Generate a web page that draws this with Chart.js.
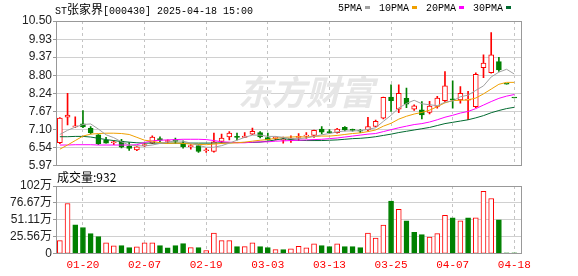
<!DOCTYPE html>
<html>
<head>
<meta charset="utf-8">
<script src="https://cdn.jsdelivr.net/npm/chart.js@4.4.1/dist/chart.umd.min.js"></script>
<style>
  html, body { margin: 0; padding: 0; background: #fff; }
  #wrap { position: relative; width: 578px; height: 276px; overflow: hidden; }
  #kline { position: absolute; left: 0; top: 0; }
  #vol { position: absolute; left: 0; top: 172px; }
  .txt { position: absolute; font: 10px "Liberation Mono", monospace; color: #000; white-space: nowrap; line-height: 12px; }
  .cjk { font-family: "Noto Sans CJK SC", sans-serif; font-size: 12px; }
  .box { display: inline-block; width: 5px; height: 3px; margin: 0 9px 2px 3px; vertical-align: middle; }
</style>
</head>
<body>
<div id="wrap">
  <canvas id="kline" width="578" height="174"></canvas>
  <canvas id="vol" width="578" height="109"></canvas>
  <div class="txt" style="left:55px;top:3px">ST<span class="cjk">张家界</span>[000430] 2025-04-18 15:00</div>
  <div class="txt" id="legend" style="left:338px;top:3px"></div>
  <div class="txt" style="left:57px;top:171px"><span class="cjk">成交量</span><span class="cjk">:932</span></div>
</div>
<script>
// trading days shown on the chart
const dates = ['01-15','01-16','01-17','01-20','01-21','01-22','01-23','01-24','01-27','02-05',
  '02-06','02-07','02-10','02-11','02-12','02-13','02-14','02-17','02-18','02-19',
  '02-20','02-21','02-24','02-25','02-26','02-27','02-28','03-03','03-04','03-05',
  '03-06','03-07','03-10','03-11','03-12','03-13','03-14','03-17','03-18','03-19',
  '03-20','03-21','03-24','03-25','03-26','03-27','03-28','03-31','04-01','04-02',
  '04-03','04-07','04-08','04-09','04-10','04-11','04-14','04-15','04-17','04-18'];
const dateTicks = ['01-20','02-07','02-19','03-03','03-13','03-25','04-07','04-18'];

const open  = [6.69,7.49,7.19,7.28,7.14,6.94,6.77,6.69,6.74,6.59, 6.47,6.60,6.68,6.82,6.73,6.79,6.68,6.57,6.60,6.44,
               6.42,6.73,6.87,6.88,6.86,6.96,7.01,6.85,6.83,6.77, 6.80,6.86,6.90,6.92,7.12,7.04,7.01,7.17,7.09,7.06,
               7.09,7.20,7.46,8.12,7.74,8.08,7.74,7.72,7.64,7.83, 8.01,8.04,8.03,8.02,7.82,9.04,8.88,9.23,8.52,8.09];
const high  = [7.48,8.24,7.50,7.70,7.20,6.95,6.86,6.75,6.80,6.70, 6.57,6.66,6.91,6.88,6.78,6.84,6.75,6.63,6.63,6.52,
               6.99,6.96,7.04,6.99,7.01,7.15,7.04,6.99,6.88,6.87, 6.91,6.98,7.01,7.09,7.20,7.10,7.14,7.20,7.12,7.10,
               7.49,7.40,8.12,8.50,8.50,8.40,7.88,7.98,7.99,8.14, 8.92,8.63,8.45,8.30,8.88,9.44,10.14,9.36,8.52,8.09];
const low   = [6.66,7.25,7.16,7.16,6.97,6.63,6.68,6.63,6.53,6.45, 6.44,6.57,6.66,6.72,6.68,6.68,6.52,6.49,6.39,6.39,
               6.40,6.68,6.78,6.78,6.85,6.94,6.84,6.77,6.78,6.68, 6.70,6.76,6.83,6.86,6.97,6.98,6.99,7.06,7.05,7.01,
               7.06,7.19,7.44,7.67,7.63,7.79,7.70,7.44,7.59,7.77, 7.96,7.77,7.93,7.41,7.79,8.73,8.87,8.92,8.52,8.09];
const close = [7.46,7.56,7.20,7.19,7.01,6.66,6.68,6.70,6.55,6.51, 6.56,6.63,6.87,6.77,6.74,6.73,6.57,6.58,6.42,6.45,
               6.72,6.84,6.99,6.86,6.90,7.05,6.87,6.78,6.84,6.78, 6.81,6.87,6.91,7.08,7.02,7.01,7.12,7.09,7.08,7.05,
               7.20,7.36,8.11,8.01,8.24,7.90,7.85,7.56,7.84,8.09, 8.47,8.03,8.24,8.06,8.83,9.18,9.44,8.97,8.52,8.09];

const ma5  = [6.95,7.08,7.18,7.26,7.28,7.12,6.94,6.85,6.72,6.62, 6.60,6.59,6.62,6.67,6.71,6.75,6.74,6.68,6.61,6.55,
              6.55,6.60,6.68,6.77,6.86,6.93,6.93,6.89,6.89,6.86, 6.82,6.82,6.84,6.89,6.94,6.98,7.03,7.06,7.06,7.07,
              7.11,7.16,7.36,7.55,7.78,7.92,8.02,7.91,7.88,7.85, 7.96,8.00,8.13,8.18,8.33,8.47,8.75,8.90,8.99,8.84];
const ma10 = [6.49,6.62,6.76,6.90,6.96,6.98,6.99,6.99,6.98,6.95, 6.86,6.77,6.74,6.69,6.67,6.68,6.67,6.65,6.64,6.63,
              6.65,6.67,6.68,6.69,6.71,6.74,6.77,6.79,6.83,6.86, 6.87,6.88,6.87,6.89,6.90,6.90,6.92,6.95,6.98,7.00,
              7.04,7.09,7.21,7.30,7.43,7.52,7.59,7.64,7.71,7.82, 7.94,8.01,8.02,8.03,8.09,8.22,8.37,8.52,8.58,8.58];
const ma20 = [6.62,6.62,6.63,6.63,6.63,6.62,6.62,6.62,6.62,6.62, 6.63,6.70,6.75,6.77,6.78,6.79,6.80,6.80,6.80,6.79,
              6.76,6.72,6.71,6.69,6.69,6.71,6.72,6.72,6.74,6.75, 6.76,6.77,6.78,6.79,6.80,6.82,6.84,6.87,6.90,6.93,
              6.96,6.98,7.04,7.10,7.16,7.21,7.26,7.29,7.34,7.41, 7.49,7.55,7.62,7.67,7.76,7.87,7.98,8.08,8.15,8.20];
const ma30 = [6.88,6.88,6.89,6.89,6.87,6.83,6.79,6.76,6.73,6.71, 6.69,6.68,6.68,6.68,6.68,6.68,6.68,6.68,6.68,6.68,
              6.68,6.69,6.69,6.70,6.70,6.70,6.71,6.74,6.78,6.82, 6.79,6.77,6.76,6.76,6.76,6.77,6.78,6.80,6.82,6.83,
              6.85,6.88,6.92,6.96,7.01,7.05,7.09,7.13,7.17,7.23, 7.29,7.33,7.37,7.41,7.47,7.54,7.63,7.70,7.76,7.80];

// volume in 万手
const volume = [19.8,75.9,43.7,39.7,30.3,25.8,16.4,11.9,12.4,9.4, 10.4,16.4,16.4,12.4,8.9,12.4,15.4,9.4,9.4,5.0,
                31.3,19.8,19.8,10.9,10.9,16.4,10.9,9.4,6.4,6.4, 7.4,11.4,8.9,14.9,12.4,10.9,14.9,10.9,10.9,9.4,
                31.3,23.8,43.2,79.4,67.0,49.6,32.3,28.8,25.3,30.3, 58.0,54.1,49.6,54.1,54.1,94.3,83.4,51.1,0.3,0.0932];

const priceTicks = [5.97, 6.54, 7.10, 7.67, 8.24, 8.80, 9.37, 9.93, 10.50];
const volTicks = [0, 25.56, 51.11, 76.67, 102.22];
const volTickLabels = ['0', '25.56万', '51.11万', '76.67万', '102万'];

const maNames = ['5PMA', '10PMA', '20PMA', '30PMA'];
const maColors = ['#a0a0a0', '#f0a000', '#ff00ff', '#006a30'];

const RED = '#ff0000', GREEN = '#008000';

// candle colour: by open/close, flat candles by previous close
const up = close.map((c, i) => c > open[i] || (c === open[i] && (i === 0 || c >= close[i - 1])));
const volUp = close.map((c, i) => i === 0 ? up[0] : c >= close[i - 1]);
const candleColor = up.map(u => u ? RED : GREEN);
const tickIdx = dateTicks.map(d => dates.indexOf(d));

// legend
document.getElementById('legend').innerHTML = maNames.map((n, i) =>
  n + '<span class="box" style="background:' + maColors[i] + '"></span>').join('');

Chart.defaults.font.family = '"Liberation Sans", "Noto Sans CJK SC", sans-serif';
Chart.defaults.font.size = 12;
Chart.defaults.color = '#222';

// watermark + grey frame round the plot area
const frame = {
  id: 'frame',
  beforeDatasetsDraw(chart, args, opts) {
    if (!opts.watermark) return;
    const ctx = chart.ctx;
    ctx.save();
    ctx.fillStyle = '#e6e6e6';
    ctx.font = 'bold italic 34px "Noto Sans CJK SC"';
    ctx.fillText('东方财富', 238, 105);
    ctx.restore();
  },
  afterDraw(chart) {
    const a = chart.chartArea, ctx = chart.ctx;
    const l = Math.round(a.left) + 0.5, t = Math.round(a.top) + 0.5;
    const r = Math.round(a.right) - 0.5, b = Math.round(a.bottom) - 0.5;
    ctx.save();
    ctx.strokeStyle = '#999';
    ctx.lineWidth = 1;
    ctx.strokeRect(l, t, r - l, b - t);
    ctx.restore();
  }
};

function xAxis(showLabels) {
  return {
    type: 'linear',
    min: -0.5,
    max: dates.length,
    offset: false,
    bounds: 'data',
    afterBuildTicks: s => { s.ticks = tickIdx.map(v => ({ value: v })); },
    grid: { color: '#c4c4c4', drawTicks: false, offset: false },
    border: { display: false, dash: [3, 3] },
    ticks: {
      display: showLabels,
      autoSkip: false,
      maxRotation: 0,
      padding: 5,
      color: RED,
      font: { family: '"Liberation Mono", monospace', size: 11 },
      callback: v => dates[v]
    }
  };
}

function yAxis(lo, hi, values, labels) {
  return {
    min: lo,
    max: hi,
    afterBuildTicks: s => { s.ticks = values.map(v => ({ value: v })); },
    afterFit: s => { s.width = 56; },
    grid: { color: '#d0d0d0', tickLength: 3, tickColor: '#999' },
    border: { display: false },
    ticks: { padding: 1, autoSkip: false, callback: (v, i) => labels[i] }
  };
}

const idx = dates.map((d, i) => i);

new Chart(document.getElementById('kline'), {
  type: 'bar',
  data: {
    datasets: [
      ...maNames.map((n, k) => ({
        type: 'line',
        label: n,
        data: idx.map(i => ({ x: i, y: [ma5, ma10, ma20, ma30][k][i] })),
        borderColor: maColors[k],
        borderWidth: 1,
        pointRadius: 0,
        order: 0
      })),
      {
        label: 'body',
        data: idx.map(i => ({ x: i, y: [open[i], close[i]] })),
        backgroundColor: up.map(u => u ? '#ffffff' : GREEN),
        borderColor: candleColor,
        borderWidth: 1,
        borderSkipped: false,
        barThickness: 5,
        minBarLength: 1,
        grouped: false,
        order: 1
      },
      {
        label: 'wick',
        data: idx.map(i => ({ x: i, y: [low[i], high[i]] })),
        backgroundColor: candleColor,
        barThickness: 1,
        grouped: false,
        order: 2
      }
    ]
  },
  options: {
    responsive: false,
    animation: false,
    devicePixelRatio: 1,
    layout: { padding: { top: 21, right: 56, bottom: 0, left: 0 } },
    plugins: { legend: { display: false }, tooltip: { enabled: false }, frame: { watermark: true } },
    scales: {
      x: xAxis(false),
      y: yAxis(5.97, 10.50, priceTicks, priceTicks.map(v => v.toFixed(2)))
    }
  },
  plugins: [frame]
});

new Chart(document.getElementById('vol'), {
  type: 'bar',
  data: {
    datasets: [{
      label: '成交量',
      data: idx.map(i => ({ x: i, y: volume[i] })),
      backgroundColor: volUp.map(u => u ? '#ffffff' : GREEN),
      borderColor: volUp.map(u => u ? RED : GREEN),
      borderWidth: 1,
      borderSkipped: false,
      barThickness: 5,
      minBarLength: 1,
      grouped: false
    }]
  },
  options: {
    responsive: false,
    animation: false,
    devicePixelRatio: 1,
    layout: { padding: { top: 14, right: 56, bottom: 4, left: 0 } },
    plugins: { legend: { display: false }, tooltip: { enabled: false }, frame: { watermark: false } },
    scales: {
      x: xAxis(true),
      y: yAxis(0, 102.22, volTicks, volTickLabels)
    }
  },
  plugins: [frame]
});
</script>
</body>
</html>
